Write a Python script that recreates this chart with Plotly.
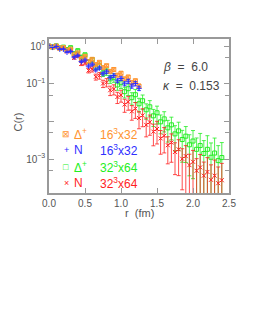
import plotly.graph_objects as go
import numpy as np

# ---- data ----
r_32 = [0.00, 0.05, 0.10, 0.15, 0.20, 0.25, 0.30, 0.35, 0.40, 0.45,
        0.50, 0.55, 0.60, 0.65, 0.70, 0.75, 0.80, 0.85, 0.90, 0.95,
        1.00, 1.05, 1.10, 1.15, 1.20, 1.25, 1.30, 1.35, 1.40, 1.45,
        1.50, 1.55, 1.60, 1.65, 1.70, 1.75, 1.80, 1.85, 1.90, 1.95,
        2.00, 2.05, 2.10, 2.15, 2.20, 2.25, 2.30, 2.35, 2.40]
r_16 = [0.00, 0.05, 0.10, 0.15, 0.20, 0.25, 0.30, 0.35, 0.40, 0.45,
        0.50, 0.55, 0.60, 0.65, 0.70, 0.75, 0.80, 0.85, 0.90, 0.95,
        1.00, 1.05, 1.10, 1.15, 1.20, 1.25]

C_delta_16 = [1.0, 0.944, 1.01, 0.891, 0.912, 0.776, 0.832, 0.589, 0.661, 0.468,
              0.537, 0.389, 0.447, 0.324, 0.372, 0.269, 0.302, 0.214, 0.240, 0.170,
              0.191, 0.135, 0.151, 0.107, 0.120, 0.0871]
C_N_16 = [1.0, 0.933, 0.977, 0.832, 0.832, 0.692, 0.724, 0.513, 0.562, 0.389,
          0.427, 0.295, 0.331, 0.234, 0.263, 0.186, 0.209, 0.148, 0.166, 0.120,
          0.138, 0.100, 0.117, 0.0871, 0.102, 0.0759]
C_delta_32 = [1.0, 0.948, 1.02, 0.902, 0.944, 0.813, 0.912, 0.631, 0.759, 0.513,
              0.589, 0.389, 0.437, 0.275, 0.302, 0.195, 0.214, 0.135, 0.148, 0.0933,
              0.107, 0.0617, 0.0741, 0.0427, 0.0513, 0.0295, 0.0355, 0.0204, 0.0245, 0.0141,
              0.0170, 0.00977, 0.0117, 0.00676, 0.00813, 0.00468, 0.00562, 0.00331, 0.00407, 0.00240,
              0.00302, 0.00182, 0.00229, 0.00141, 0.00182, 0.00112, 0.00145, 0.000912, 0.00110]
C_N_32 = [1.0, 0.944, 0.99, 0.861, 0.871, 0.716, 0.759, 0.490, 0.550, 0.339,
          0.363, 0.226, 0.245, 0.153, 0.166, 0.102, 0.110, 0.0676, 0.0724, 0.0447,
          0.0501, 0.0282, 0.0331, 0.0186, 0.0219, 0.0123, 0.0145, 0.00813, 0.00955, 0.00537,
          0.00631, 0.00355, 0.00417, 0.00234, 0.00275, 0.00155, 0.00182, 0.00102, 0.00120, 0.000692,
          0.000851, 0.000490, 0.000603, 0.000363, 0.000457, 0.000282, 0.000363, 0.000229, 0.000275]

# relative errors
rel_16 = [0.01, 0.01, 0.02, 0.02, 0.03, 0.03, 0.04, 0.04, 0.05, 0.05,
          0.06, 0.06, 0.07, 0.07, 0.08, 0.08, 0.09, 0.09, 0.10, 0.10,
          0.11, 0.11, 0.12, 0.12, 0.13, 0.13]
rel_delta_32 = [0.02, 0.02, 0.03, 0.03, 0.04, 0.05, 0.06, 0.07, 0.08, 0.09,
                0.10, 0.12, 0.14, 0.16, 0.18, 0.20, 0.22, 0.24, 0.26, 0.28,
                0.30, 0.32, 0.34, 0.36, 0.38, 0.40, 0.42, 0.44, 0.46, 0.48,
                0.50, 0.52, 0.55, 0.58, 0.60, 0.65, 0.70, 0.75, 0.80, 0.85,
                0.90, 1.0, 1.1, 1.2, 1.3, 1.4, 1.5, 1.5, 1.5]
rel_N_32 = [0.02, 0.02, 0.03, 0.03, 0.04, 0.05, 0.06, 0.07, 0.08, 0.10,
            0.12, 0.14, 0.16, 0.18, 0.20, 0.22, 0.25, 0.28, 0.30, 0.33,
            0.35, 0.38, 0.40, 0.42, 0.45, 0.48, 0.50, 0.52, 0.55, 0.58,
            0.60, 0.62, 0.65, 0.68, 0.70, 0.75, 0.80, 0.85, 0.90, 0.95,
            1.0, 1.1, 1.2, 1.3, 1.4, 1.5, 1.6, 1.7, 1.8]

particles = ["Δ<sup>+</sup>", "N", "Δ<sup>+</sup>", "N"]
lattices = ["16<sup>3</sup>x32", "16<sup>3</sup>x32", "32<sup>3</sup>x64", "32<sup>3</sup>x64"]
legend_glyphs = ["⊠", "+", "□", "×"]
colors = ["#ff9430", "#2f2fff", "#22ee22", "#ff1f1f"]
symbols = ["square-x-open", "cross-thin-open", "square-open", "x-thin-open"]

series = [
    (r_16, C_delta_16, rel_16),
    (r_16, C_N_16, rel_16),
    (r_32, C_delta_32, rel_delta_32),
    (r_32, C_N_32, rel_N_32),
]

fig = go.Figure()
order = [2, 3, 0, 1]  # drawing order (16^3 on top)
for k in order:
    rr, cc, rel = series[k]
    cc = np.array(cc)
    err = cc * np.array(rel)
    fig.add_trace(go.Scatter(
        x=rr, y=cc, mode="markers", showlegend=False,
        marker=dict(symbol=symbols[k], size=4, color=colors[k],
                    line=dict(width=1, color=colors[k])),
        error_y=dict(type="data", array=err, arrayminus=err, visible=True,
                     color=colors[k], thickness=0.8, width=2),
    ))

axis_col = "#999999"
fig.update_layout(
    width=255, height=330,
    margin=dict(l=41, r=34, t=31, b=145),
    paper_bgcolor="white", plot_bgcolor="white",
    font=dict(family="Liberation Sans, Arial, sans-serif", color="#555555", size=10),
    showlegend=False,
    xaxis=dict(range=[0, 2.5], tickvals=[0, 0.5, 1.0, 1.5, 2.0, 2.5],
               ticktext=["0.0", "0.5", "1.0", "1.5", "2.0", "2.5"],
               ticks="inside", ticklen=5, tickcolor=axis_col,
               showline=True, linecolor=axis_col, linewidth=1.5, mirror="ticks",
               showgrid=False, zeroline=False, automargin=False,
               tickfont=dict(size=10)),
    yaxis=dict(type="log", range=[-3.9, 0.19],
               tickvals=[1, 0.1, 0.01, 0.001],
               ticktext=["10<sup>0</sup>", "10<sup>−1</sup>", "", "10<sup>−3</sup>"],
               ticks="inside", ticklen=5, tickcolor=axis_col,
               minor=dict(tickvals=[0.5, 0.05, 0.005, 0.0005], ticks="inside",
                          ticklen=4, tickcolor=axis_col, showgrid=False),
               showline=True, linecolor=axis_col, linewidth=1.5, mirror="ticks",
               showgrid=False, zeroline=False, automargin=False,
               tickfont=dict(size=10)),
)

# axis titles
fig.add_annotation(xref="paper", yref="paper", x=0.5, y=-0.13, yanchor="middle",
                   text="r  (fm)", showarrow=False, font=dict(size=11, color="#555555"))
fig.add_annotation(xref="paper", yref="paper", x=-0.17, y=0.46, xanchor="center", yanchor="middle",
                   text="C(r)", textangle=-90, showarrow=False,
                   font=dict(size=11, color="#555555"))

# parameter labels
fig.add_annotation(xref="paper", yref="paper", x=0.62, y=0.82, xanchor="left", yanchor="middle",
                   text="<i>β</i>  =  6.0", showarrow=False,
                   font=dict(size=12, color="#444444"))
fig.add_annotation(xref="paper", yref="paper", x=0.62, y=0.695, xanchor="left", yanchor="middle",
                   text="<i>κ</i>  =  0.153", showarrow=False,
                   font=dict(size=12, color="#444444"))

# legend drawn as text rows
row_y = [0.383, 0.279, 0.169, 0.065]
for k in range(4):
    fig.add_annotation(xref="paper", yref="paper", x=0.095, y=row_y[k],
                       xanchor="center", yanchor="middle", text=legend_glyphs[k],
                       showarrow=False, font=dict(size=9, color=colors[k]))
    fig.add_annotation(xref="paper", yref="paper", x=0.13, y=row_y[k],
                       xanchor="left", yanchor="middle", text=particles[k],
                       showarrow=False, font=dict(size=12, color=colors[k]))
    fig.add_annotation(xref="paper", yref="paper", x=0.27, y=row_y[k],
                       xanchor="left", yanchor="middle", text=lattices[k],
                       showarrow=False, font=dict(size=12, color=colors[k]))

fig.write_html("out.html")
